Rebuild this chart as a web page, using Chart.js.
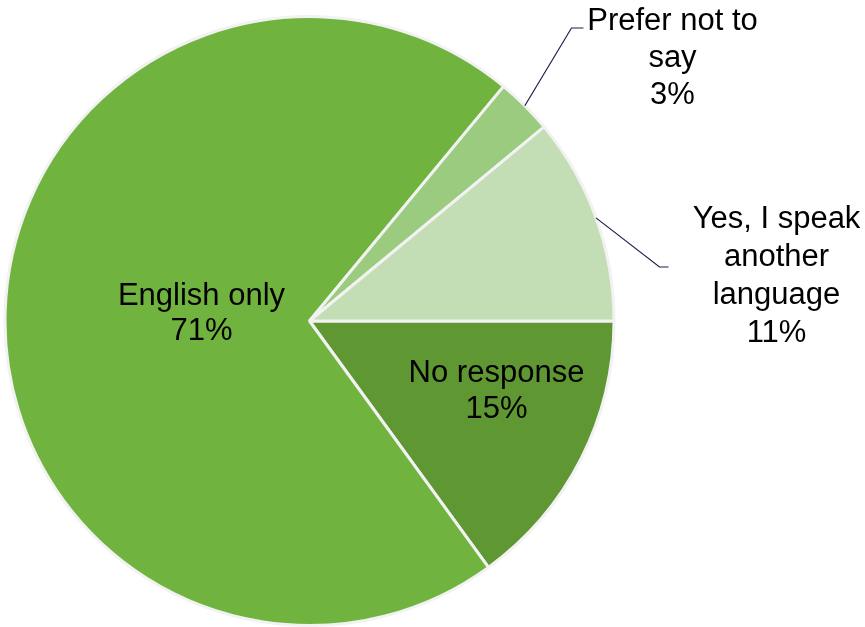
<!DOCTYPE html>
<html lang="en">
<head>
  <meta charset="UTF-8" />
  <title>Languages spoken</title>
  <script src="https://cdn.jsdelivr.net/npm/chart.js"></script>
  <style>
    html, body { margin: 0; padding: 0; background: #fff; }
    #wrap { width: 865px; height: 627px; position: relative; }
  </style>
</head>
<body>
  <div id="wrap"><canvas id="pie"></canvas></div>

  <script>
    const categories = ['No response', 'English only', 'Prefer not to say', 'Yes, I speak another language'];
    const values = [15, 71, 3, 11];
    const sliceColors = ['#5f9733', '#70b33f', '#9bcb7e', '#c3deb5'];

    // label lines and where they sit, relative to the pie centre
    const labelLines = [
      ['No response', '15%'],
      ['English only', '71%'],
      ['Prefer not to', 'say', '3%'],
      ['Yes, I speak', 'another', 'language', '11%']
    ];
    const labelSpots = [
      { dx: 187, dy: 70, lh: 36 },
      { dx: -108, dy: -7, lh: 35 },
      { dx: 363, dy: -263, lh: 37, elbow: [262, -293], end: [274, -293] },
      { dx: 467, dy: -45, lh: 38, elbow: [350, -54], end: [359, -54] }
    ];

    const pieLabels = {
      id: 'pieLabels',
      afterDatasetsDraw(chart) {
        const ctx = chart.ctx;
        const arcs = chart.getDatasetMeta(0).data;
        ctx.save();
        ctx.font = '31px "Liberation Sans", Arial, sans-serif';
        ctx.fillStyle = '#000';
        ctx.textAlign = 'center';
        ctx.textBaseline = 'middle';
        arcs.forEach((arc, i) => {
          const s = labelSpots[i];
          const cx = arc.x, cy = arc.y;
          if (s.elbow) {
            const mid = (arc.startAngle + arc.endAngle) / 2;
            ctx.beginPath();
            ctx.strokeStyle = '#1f1f4a';
            ctx.lineWidth = 1.2;
            ctx.moveTo(cx + Math.cos(mid) * arc.outerRadius, cy + Math.sin(mid) * arc.outerRadius);
            ctx.lineTo(cx + s.elbow[0], cy + s.elbow[1]);
            ctx.lineTo(cx + s.end[0], cy + s.end[1]);
            ctx.stroke();
          }
          const lines = labelLines[i];
          const top = cy + s.dy - (lines.length - 1) * s.lh / 2;
          lines.forEach((t, j) => ctx.fillText(t, cx + s.dx, top + j * s.lh));
        });
        ctx.restore();
      }
    };

    new Chart(document.getElementById('pie'), {
      type: 'pie',
      data: {
        labels: categories,
        datasets: [{
          data: values,
          backgroundColor: sliceColors,
          borderColor: '#f2f2f2',
          borderWidth: 3
        }]
      },
      options: {
        responsive: true,
        maintainAspectRatio: false,
        animation: false,
        rotation: 90,
        layout: { padding: { left: 3, right: 249, top: 15, bottom: -1 } },
        plugins: {
          legend: { display: false },
          tooltip: { enabled: false }
        }
      },
      plugins: [pieLabels]
    });
  </script>
</body>
</html>
